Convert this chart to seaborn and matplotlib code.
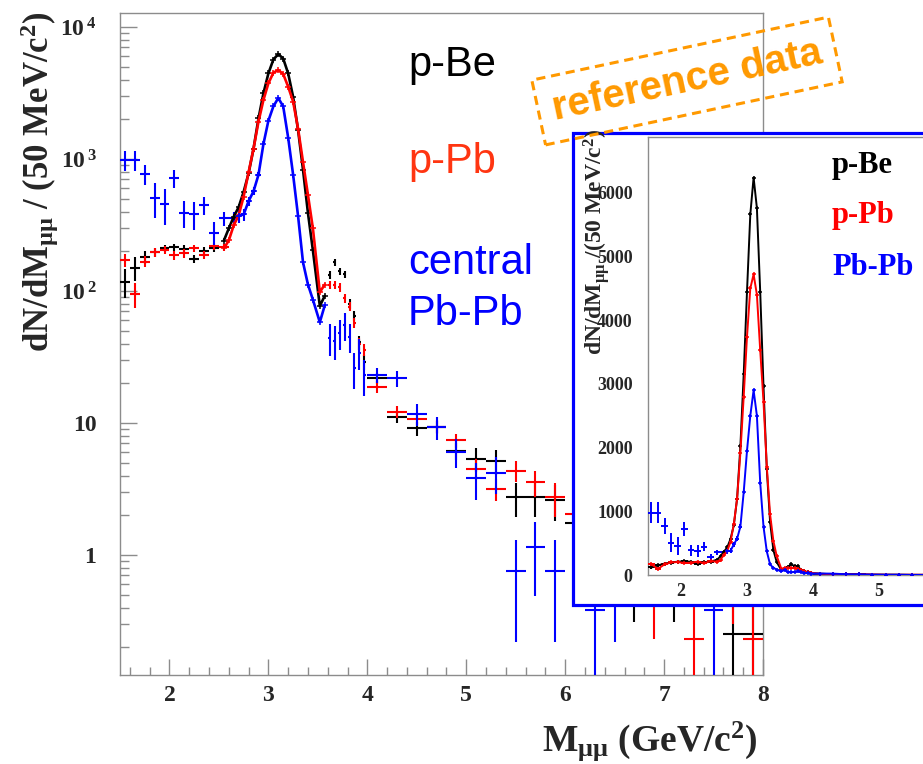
import numpy as np
import pandas as pd
import matplotlib
matplotlib.use('Agg')
import matplotlib.pyplot as plt
import seaborn as sns
from matplotlib.patches import Rectangle
from matplotlib.ticker import FixedLocator, MultipleLocator, NullFormatter, FixedFormatter

sns.set_theme(style='white')
plt.rcParams['font.family'] = ['Liberation Serif', 'DejaVu Serif']
plt.rcParams['font.weight'] = 'bold'
plt.rcParams['mathtext.fontset'] = 'custom'
plt.rcParams['mathtext.rm'] = 'Liberation Serif:bold'
plt.rcParams['mathtext.it'] = 'Liberation Serif:bold'
plt.rcParams['mathtext.bf'] = 'Liberation Serif:bold'

# ---------------- data ----------------
# low-mass 100 MeV bins
low_m_be = [1.55, 1.65, 1.75, 1.85, 1.95, 2.05, 2.15, 2.25, 2.35, 2.45]
low_be = [118, 150, 180, 196, 210, 214, 208, 175, 202, 210]
low_be_err = [30, 30, 20, 15, 14, 14, 14, 13, 13, 13]

low_m_pb = [1.55, 1.65, 1.75, 1.85, 1.95, 2.05, 2.15, 2.25, 2.35, 2.45, 2.55]
low_pb = [171, 95, 167, 197, 204, 187, 193, 210, 187, 218, 214]
low_pb_err = [20, 20, 16, 15, 14, 14, 14, 13, 13, 13, 13]

low_m_aa = [1.55, 1.65, 1.75, 1.85, 1.95, 2.05, 2.15, 2.25, 2.35, 2.45, 2.55, 2.65]
low_aa = [980, 980, 770, 510, 455, 715, 388, 380, 447, 277, 355, 360]
low_aa_err = [170, 170, 130, 150, 140, 110, 90, 90, 70, 55, 45, 40]

# J/psi region, 50 MeV bins (curves)
curve_m = [2.55, 2.60, 2.65, 2.70, 2.75, 2.80, 2.85, 2.90, 2.95, 3.00, 3.05,
           3.10, 3.15, 3.20, 3.25, 3.30, 3.35, 3.40, 3.45, 3.52, 3.57]
curve_be = [241, 298, 366, 433, 565, 780, 1200, 2030, 3150, 4450, 5660,
            6240, 5760, 4450, 2960, 1660, 830, 390, 203, 77, 92]
curve_pb = [210, 242, 315, 375, 520, 795, 1200, 1920, 2800, 3740, 4500,
            4720, 4400, 3530, 2720, 1700, 950, 535, 298, 98, 112]
curve_m_aa = [2.70, 2.75, 2.80, 2.85, 2.90, 2.95, 3.00, 3.05, 3.10, 3.15,
              3.20, 3.25, 3.30, 3.35, 3.40, 3.45, 3.52, 3.57]
curve_aa = [372, 380, 480, 570, 760, 1300, 1950, 2500, 2900, 2500,
            1450, 760, 370, 165, 112, 86, 58, 78]
curve_aa_err = [45, 40, 40, 40, 35, 30, 30, 30, 30, 30,
                30, 25, 20, 12, 10, 9, 8, 9]

# psi' region, 50 MeV bins (points)
post_m = [3.62, 3.67, 3.72, 3.77, 3.82, 3.87, 3.92, 3.97]
post_be = [132, 165, 141, 134, 80, 65, 41, 29]
post_be_err = [9, 10, 9, 9, 7, 6, 5, 4]
post_pb = [111, 111, 107, 88, 76, 57, 40, 36]
post_pb_err = [8, 8, 8, 7, 6, 5, 4, 4]
post_aa = [44, 42, 48, 55, 45, 26, 34, 23]
post_aa_err = [12, 12, 12, 13, 11, 8, 9, 7]

# high-mass 200 MeV bins
tail_m = [4.1, 4.3, 4.5, 4.7, 4.9, 5.1, 5.3, 5.5, 5.7, 5.9,
          6.1, 6.3, 6.5, 6.7, 6.9, 7.1, 7.3, 7.5, 7.7, 7.9]
tail_be = [21.8, 11.2, 9.1, 9.4, 6.1, 5.38, 5.15, 2.73, 2.73, 2.6,
           1.75, 1.3, 1.0, 0.8, 1.0, 0.8, 0.8, 0.8, 0.25, 0.25]
tail_be_err = [2.0, 1.2, 1.1, 1.0, 0.9, 1.1, 1.1, 0.8, 0.8, 0.8,
               0.7, 0.6, 0.5, 0.49, 0.45, 0.49, 0.3, 0.3, 0.249, 0.249]
tail_pb = [18.9, 12.2, 10.8, 9.4, 7.4, 4.5, 3.15, 4.35, 3.55, 2.73,
           2.05, 1.5, 1.2, 1.0, 0.8, 1.0, 0.23, 0.8, 0.8, 0.23]
tail_pb_err = [2.0, 1.3, 1.2, 1.1, 0.9, 0.8, 0.6, 0.8, 0.8, 0.8,
               0.6, 0.5, 0.5, 0.5, 0.57, 0.5, 0.229, 0.35, 0.5, 0.229]
tail_m_aa = [4.1, 4.3, 4.5, 4.7, 4.9, 5.1, 5.3, 5.5, 5.7, 5.9, 6.3, 6.5, 7.5]
tail_aa = [23.0, 21.8, 11.7, 9.3, 6.06, 3.8, 4.2, 0.76, 1.14, 0.76, 0.38, 0.7, 0.38]
tail_aa_err = [3, 3, 2.2, 1.8, 1.5, 1.2, 1.3, 0.54, 0.65, 0.54, 0.378, 0.48, 0.378]

y_major = [1, 10, 100, 1000, 10000]
y_major_labels = ['1', '10', r'$10^{\,2}$', r'$10^{\,3}$', r'$10^{\,4}$']
x_major = [2, 3, 4, 5, 6, 7, 8]
inset_y_major = [0, 1000, 2000, 3000, 4000, 5000, 6000]

BLACK = '#000000'
RED = '#ff0000'
BLUE = '#0000ff'
GRAY = '#8c8c8c'

W, H = 923, 764
fig = plt.figure(figsize=(W / 100, H / 100), dpi=100)
fig.patch.set_facecolor('white')


def px_rect(x0, y0, x1, y1):
    return [x0 / W, (H - y1) / H, (x1 - x0) / W, (y1 - y0) / H]


# ---------------- main axes ----------------
ax = fig.add_axes(px_rect(120, 13, 763, 675))
ax.set_facecolor('white')
ax.set_yscale('log')


def draw_all(a, lw_curve, ms, elw, inset=False):
    # low mass
    a.errorbar(low_m_be, low_be, yerr=low_be_err, xerr=0.05, fmt='none',
               ecolor=BLACK, elinewidth=elw, capsize=0, zorder=3)
    a.errorbar(low_m_pb, low_pb, yerr=low_pb_err, xerr=0.05, fmt='none',
               ecolor=RED, elinewidth=elw, capsize=0, zorder=3)
    a.errorbar(low_m_aa, low_aa, yerr=low_aa_err, xerr=0.05, fmt='none',
               ecolor=BLUE, elinewidth=elw, capsize=0, zorder=3)
    # curves
    if inset:
        bx = low_m_be + curve_m + post_m + tail_m
        by = low_be + curve_be + post_be + tail_be
        rx = low_m_pb[:-1] + curve_m + post_m + tail_m
        ry = low_pb[:-1] + curve_pb + post_pb + tail_pb
        ux = curve_m_aa + post_m + tail_m_aa
        uy = curve_aa + post_aa + tail_aa
    else:
        bx, by = curve_m, curve_be
        rx, ry = curve_m, curve_pb
        ux, uy = curve_m_aa, curve_aa
    for xx, yy, c in [(bx, by, BLACK), (rx, ry, RED), (ux, uy, BLUE)]:
        df = pd.DataFrame({'m': xx, 'n': yy})
        sns.lineplot(data=df, x='m', y='n', ax=a, color=c, lw=lw_curve,
                     marker='+', markersize=ms, markeredgewidth=1.1,
                     markeredgecolor=c, estimator=None, sort=True, zorder=4)
    a.errorbar(curve_m_aa[:5], curve_aa[:5], yerr=curve_aa_err[:5], xerr=0.025,
               fmt='none', ecolor=BLUE, elinewidth=elw, capsize=0, zorder=3)
    # psi' region
    a.errorbar(post_m, post_be, yerr=post_be_err, xerr=0.018, fmt='none',
               ecolor=BLACK, elinewidth=elw, capsize=0, zorder=3)
    a.errorbar(post_m, post_pb, yerr=post_pb_err, xerr=0.018, fmt='none',
               ecolor=RED, elinewidth=elw, capsize=0, zorder=3)
    a.errorbar(post_m, post_aa, yerr=post_aa_err, xerr=0.018, fmt='none',
               ecolor=BLUE, elinewidth=elw, capsize=0, zorder=3)
    # tail
    a.errorbar(tail_m, tail_be, yerr=tail_be_err, xerr=0.1, fmt='none',
               ecolor=BLACK, elinewidth=elw, capsize=0, zorder=3)
    a.errorbar(tail_m, tail_pb, yerr=tail_pb_err, xerr=0.1, fmt='none',
               ecolor=RED, elinewidth=elw, capsize=0, zorder=3)
    a.errorbar(tail_m_aa, tail_aa, yerr=tail_aa_err, xerr=0.1, fmt='none',
               ecolor=BLUE, elinewidth=elw, capsize=0, zorder=3)


draw_all(ax, 1.9, 5, 1.5)
ax.set_xlim(1.5, 8.0)
ax.set_ylim(0.1233, 12770)
ax.set_xlabel('')
ax.set_ylabel('')
ax.grid(False)
for s in ax.spines.values():
    s.set_color(GRAY)
    s.set_linewidth(1.0)
    s.set_visible(True)

ax.xaxis.set_major_locator(FixedLocator(x_major))
ax.xaxis.set_minor_locator(MultipleLocator(0.2))
ax.yaxis.set_major_locator(FixedLocator(y_major))
ax.yaxis.set_major_formatter(FixedFormatter(y_major_labels))
minor_y = [k * 10.0 ** e for e in range(-1, 5) for k in range(2, 10)]
ax.yaxis.set_minor_locator(FixedLocator(minor_y))
ax.yaxis.set_minor_formatter(NullFormatter())
ax.tick_params(axis='y', which='major', direction='in', length=12, width=1,
               color=GRAY, labelsize=17, pad=17, left=True, right=False)
ax.tick_params(axis='y', which='minor', direction='in', length=6.5, width=1,
               color=GRAY, left=True, right=False)
ax.tick_params(axis='x', which='major', direction='in', length=11.5, width=1,
               color=GRAY, labelsize=17, pad=7, bottom=True, top=False)
ax.tick_params(axis='x', which='minor', direction='in', length=5.8, width=1,
               color=GRAY, bottom=True, top=False)
for lab in ax.get_xticklabels() + ax.get_yticklabels():
    lab.set_fontweight('bold')

fig.text(40 / W, 1 - 182 / H, r'dN/dM$_{\mathrm{μμ}}$ / (50 MeV/c$^{2}$)',
         rotation=90, ha='center', va='center', fontsize=25, fontweight='bold')
fig.text(650 / W, 1 - 741 / H, r'M$_{\mathrm{μμ}}$ (GeV/c$^{2}$)',
         ha='center', va='center', fontsize=27, fontweight='bold')

# main labels
fig.text(408 / W, 1 - 76 / H, 'p-Be', color=BLACK, fontsize=30,
         family='Liberation Sans', fontweight='normal', va='baseline')
fig.text(408 / W, 1 - 173 / H, 'p-Pb', color='#ff3511', fontsize=30,
         family='Liberation Sans', fontweight='normal', va='baseline')
fig.text(408 / W, 1 - 274 / H, 'central', color=BLUE, fontsize=30,
         family='Liberation Sans', fontweight='normal', va='baseline')
fig.text(408 / W, 1 - 325 / H, 'Pb-Pb', color=BLUE, fontsize=30,
         family='Liberation Sans', fontweight='normal', va='baseline')

# ---------------- inset ----------------
frame = Rectangle((573 / W, (H - 605) / H), (935 - 573) / W, (605 - 133) / H,
                  transform=fig.transFigure, facecolor='white', edgecolor=BLUE,
                  linewidth=2.3, zorder=1)
fig.add_artist(frame)

ax2 = fig.add_axes(px_rect(648, 137, 923, 575))
ax2.set_zorder(2)
ax2.set_facecolor('white')
draw_all(ax2, 1.4, 3.5, 1.4, inset=True)
ax2.set_xlim(1.5, 1.5 + 275 / 66)
ax2.set_ylim(0, 6876)
ax2.set_xlabel('')
ax2.set_ylabel('')
ax2.grid(False)
for k, s in ax2.spines.items():
    s.set_color(GRAY)
    s.set_linewidth(1.0)
ax2.spines['right'].set_visible(False)
ax2.xaxis.set_major_locator(FixedLocator([2, 3, 4, 5]))
ax2.xaxis.set_minor_locator(MultipleLocator(0.2))
ax2.yaxis.set_major_locator(FixedLocator(inset_y_major))
ax2.yaxis.set_minor_locator(MultipleLocator(200))
ax2.tick_params(axis='both', which='major', direction='in', length=7, width=1,
                color=GRAY, labelsize=13)
ax2.tick_params(axis='y', which='major', pad=11)
ax2.tick_params(axis='x', which='major', pad=6)
ax2.tick_params(axis='both', which='minor', direction='in', length=3.6,
                width=1, color=GRAY)
for lab in ax2.get_xticklabels() + ax2.get_yticklabels():
    lab.set_fontweight('bold')

fig.text(596 / W, 1 - 242 / H, r'dN/dM$_{\mathrm{μμ}}$ /(50 MeV/c$^{2}$)',
         rotation=90, ha='center', va='center', fontsize=17, fontweight='bold',
         zorder=5)
fig.text(832 / W, 1 - 173 / H, 'p-Be', color=BLACK, fontsize=22,
         fontweight='bold', va='baseline', zorder=5)
fig.text(832 / W, 1 - 223 / H, 'p-Pb', color=RED, fontsize=22,
         fontweight='bold', va='baseline', zorder=5)
fig.text(832 / W, 1 - 275 / H, 'Pb-Pb', color=BLUE, fontsize=22,
         fontweight='bold', va='baseline', zorder=5)

# watermark
fig.text(687 / W, 1 - 81 / H, 'reference data', rotation=12,
         rotation_mode='anchor', ha='center', va='center', fontsize=29,
         color='#ff9900', family='Liberation Sans', fontweight='bold',
         zorder=10,
         bbox=dict(boxstyle='square,pad=0.35', fc='none', ec='#ff9900',
                   lw=2.2, ls=(0, (3.0, 1.9))))

fig.savefig('out.png', dpi=100, facecolor='white')
